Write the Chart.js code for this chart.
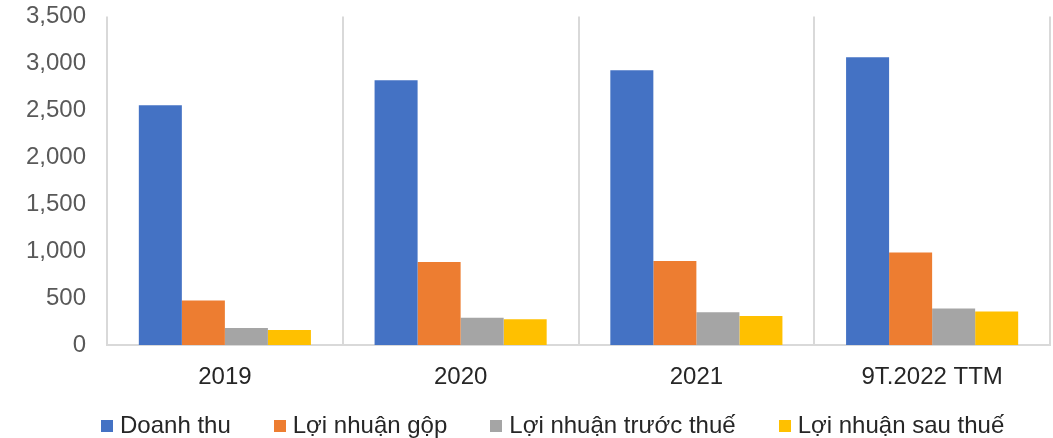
<!DOCTYPE html>
<html>
<head>
<meta charset="utf-8">
<script src="https://cdn.jsdelivr.net/npm/chart.js@4"></script>
<style>
  html, body { margin: 0; padding: 0; background: #ffffff; }
  #wrap { position: relative; width: 1053px; height: 438px; overflow: hidden; }
  #chart { position: absolute; left: 0; top: -19px; }
  #legend {
    position: absolute; left: 101px; top: 411px;
    display: flex; gap: 43px;
    font-family: 'Liberation Sans', Arial, sans-serif;
    font-size: 24px; line-height: 28px; color: #262626;
    white-space: nowrap;
  }
  .item { display: flex; align-items: center; }
  .box { width: 12px; height: 12px; margin-right: 7px; margin-top: 2px; }
</style>
</head>
<body>
<div id="wrap">
  <canvas id="chart" width="1053" height="457"></canvas>
  <div id="legend"></div>
</div>
<script>
const years = ['2019', '2020', '2021', '9T.2022 TTM'];
const seriesNames = ['Doanh thu', 'Lợi nhuận gộp', 'Lợi nhuận trước thuế', 'Lợi nhuận sau thuế'];
const doanhThu = [2553, 2819, 2926, 3064];
const loiNhuanGop = [475, 883, 894, 986];
const loiNhuanTruocThue = [180, 291, 348, 390];
const loiNhuanSauThue = [160, 273, 309, 358];
const seriesColors = ['#4472C4', '#ED7D31', '#A5A5A5', '#FFC000'];

const FONT = "'Liberation Sans', Arial, sans-serif";

const ctx = document.getElementById('chart').getContext('2d');
const chart = new Chart(ctx, {
  type: 'bar',
  data: {
    labels: years,
    datasets: [
      { label: seriesNames[0], data: doanhThu, backgroundColor: seriesColors[0] },
      { label: seriesNames[1], data: loiNhuanGop, backgroundColor: seriesColors[1] },
      { label: seriesNames[2], data: loiNhuanTruocThue, backgroundColor: seriesColors[2] },
      { label: seriesNames[3], data: loiNhuanSauThue, backgroundColor: seriesColors[3] }
    ]
  },
  options: {
    responsive: false,
    animation: false,
    layout: { padding: { top: 0, right: 3, left: 0, bottom: 43 } },
    datasets: { bar: { categoryPercentage: 0.73, barPercentage: 1.0 } },
    scales: {
      x: {
        grid: { display: true, offset: true, color: '#d9d9d9', lineWidth: 2, drawTicks: false },
        border: { display: true, color: '#d9d9d9', width: 2 },
        ticks: { color: '#262626', font: { family: FONT, size: 24 }, padding: 18 },
        afterFit: function(scale) { scale.height = 50; }
      },
      y: {
        min: 0, max: 3500,
        grid: { display: false, drawTicks: false },
        border: { display: false },
        ticks: {
          stepSize: 500, color: '#595959', padding: 21,
          font: { family: FONT, size: 24 },
          callback: function(v) { return v.toLocaleString('en-US'); }
        },
        afterFit: function(scale) { scale.width = 107; }
      }
    },
    plugins: {
      legend: { display: false },
      tooltip: { enabled: false }
    }
  }
});

// legend kept as html so spacing can follow the original
const legendEl = document.getElementById('legend');
chart.data.datasets.forEach(ds => {
  const item = document.createElement('div');
  item.className = 'item';
  item.innerHTML = `<span class="box" style="background:${ds.backgroundColor}"></span><span>${ds.label}</span>`;
  legendEl.appendChild(item);
});
</script>
</body>
</html>
